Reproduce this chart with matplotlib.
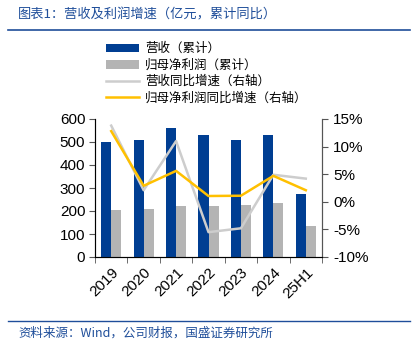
import matplotlib
matplotlib.use("Agg")
import matplotlib.pyplot as plt
import numpy as np
from matplotlib.ticker import MultipleLocator, FuncFormatter, FixedLocator

plt.rcParams['font.family'] = ['Liberation Sans', 'Noto Sans CJK SC', 'DejaVu Sans']

years = ['2019', '2020', '2021', '2022', '2023', '2024', '25H1']
revenue = [500, 508, 563, 532, 507, 531, 274]          # 营收（累计）
profit = [203, 209, 220, 223, 226, 236, 133]            # 归母净利润（累计）
revenue_yoy = [13.8, 2.1, 11.0, -5.5, -4.8, 4.9, 4.2]    # 营收同比增速 %
profit_yoy = [12.8, 2.9, 5.6, 1.05, 1.1, 4.7, 2.1]       # 归母净利润同比增速 %

blue = '#003E92'
grey_bar = '#B4B4B4'
grey_line = '#CDCDCD'
yellow = '#FFC000'
title_blue = '#1F4E9A'

fig = plt.figure(figsize=(4.15, 3.46), dpi=100)
ax = fig.add_axes([95/415, 1-257/346, 227/415, 138/346])
x = np.arange(len(years))
w = 0.31
b1 = ax.bar(x - w/2, revenue, width=w, color=blue, label='营收（累计）')
b2 = ax.bar(x + w/2, profit, width=w, color=grey_bar, label='归母净利润（累计）')
ax.set_ylim(0, 600)
ax.set_xlim(-0.5, len(years) - 0.5)
ax.yaxis.set_major_locator(MultipleLocator(100))
ax.set_xticks(x)
ax.set_xticklabels(years, rotation=45, ha='right', rotation_mode='anchor', fontsize=11)
ax.xaxis.set_minor_locator(FixedLocator(np.arange(-0.5, len(years), 1)))
ax.tick_params(axis='x', which='major', length=0, pad=6)
ax.tick_params(axis='x', which='minor', length=4, direction='out', color='#555555')
ax.tick_params(axis='y', labelsize=11, length=4, color='#555555', pad=3)
ax.spines['top'].set_visible(False)
for s in ['left', 'bottom', 'right']:
    ax.spines[s].set_color('#555555')

ax2 = ax.twinx()
l1, = ax2.plot(x, revenue_yoy, color=grey_line, lw=1.8, label='营收同比增速（右轴）')
l2, = ax2.plot(x, profit_yoy, color=yellow, lw=1.8, label='归母净利润同比增速（右轴）')
ax2.set_ylim(-10, 15)
ax2.yaxis.set_major_locator(MultipleLocator(5))
ax2.yaxis.set_major_formatter(FuncFormatter(lambda v, p: f'{v:.0f}%'))
ax2.tick_params(axis='y', labelsize=11, length=4, color='#555555', pad=4)
ax2.spines['top'].set_visible(False)
ax2.spines['right'].set_color('#555555')

fig.legend(handles=[b1, b2, l1, l2], loc='upper left', bbox_to_anchor=(100/415, 1-36/346),
           frameon=False, handlelength=2.6, handletextpad=0.5,
           labelspacing=0.28, borderpad=0, prop={'family': ['Noto Sans CJK SC'], 'size': 9})

fig.text(18/415, 1-15/346, '图表1：营收及利润增速（亿元，累计同比）', color=title_blue,
         fontsize=9.5, va='center', ha='left', family=['Noto Sans CJK SC'])
fig.add_artist(plt.Line2D([8/415, 410/415], [1-30/346, 1-30/346], color=title_blue, lw=1.2))
fig.add_artist(plt.Line2D([8/415, 410/415], [1-321/346, 1-321/346], color=title_blue, lw=1.0))
fig.text(18/415, 1-333/346, '资料来源：Wind，公司财报，国盛证券研究所', color=title_blue,
         fontsize=9, va='center', ha='left', family=['Noto Sans CJK SC', 'Liberation Sans'])

fig.savefig('out.png', dpi=100)
